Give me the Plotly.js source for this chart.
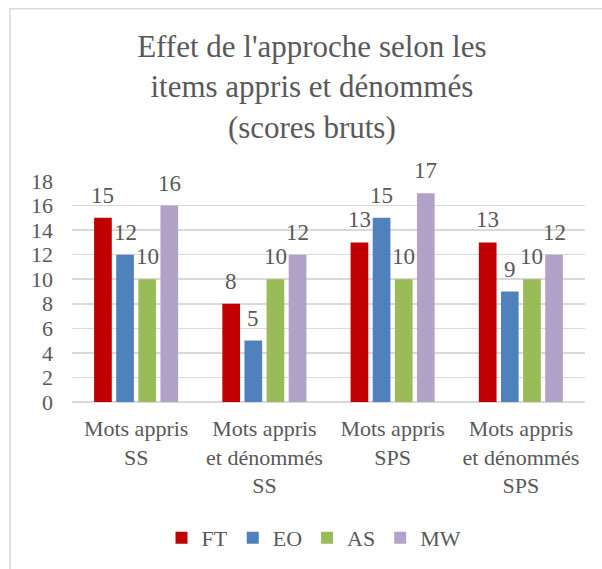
<!DOCTYPE html>
<html>
<head>
<meta charset="utf-8">
<script src="https://cdn.plot.ly/plotly-3.0.1.min.js"></script>
<style>html,body{margin:0;padding:0;background:#fff;}#chart{width:602px;height:569px;}</style>
</head>
<body>
<div id="chart"></div>
<script>
var categories = ["Mots appris<br>SS", "Mots appris<br>et dénommés<br>SS", "Mots appris<br>SPS", "Mots appris<br>et dénommés<br>SPS"];
var seriesNames = ["FT", "EO", "AS", "MW"];
var FT = [15, 8, 13, 13];
var EO = [12, 5, 15, 9];
var AS = [10, 10, 10, 10];
var MW = [16, 12, 17, 12];
var colors = ["#C00000", "#4F81BD", "#9BBB59", "#B3A2C7"];
var yTicks = [0, 2, 4, 6, 8, 10, 12, 14, 16, 18];

var seriesValues = [FT, EO, AS, MW];
var textColor = "#595959";
var font = "Liberation Serif";
var bargap = 0.31;

var traces = seriesValues.map(function (vals, i) {
  return {
    type: "bar",
    name: seriesNames[i],
    x: categories,
    y: vals,
    marker: { color: colors[i] },
    hoverinfo: "skip"
  };
});

// data labels placed at each bar's own category/value through the axes
var nS = seriesValues.length;
var slot = (1 - bargap) / nS;
var annotations = [];
seriesValues.forEach(function (vals, i) {
  var off = -(1 - bargap) / 2 + slot * (i + 0.5);
  vals.forEach(function (v, c) {
    annotations.push({
      x: c + off, y: v, xref: "x", yref: "y",
      text: String(v), showarrow: false,
      xanchor: "center", yanchor: "bottom", yshift: 8,
      font: { family: font, size: 23, color: textColor }
    });
  });
});

var L = 72, R = 17, T = 181, B = 166;
var W = 602, H = 569;
var pw = W - L - R, ph = H - T - B;

var layout = {
  width: W, height: H,
  margin: { l: L, r: R, t: T, b: B, pad: 0 },
  paper_bgcolor: "#ffffff",
  plot_bgcolor: "#ffffff",
  font: { family: font, color: textColor, size: 21 },
  title: {
    text: "Effet de l'approche selon les<br>items appris et dénommés<br>(scores bruts)",
    font: { family: font, size: 31, color: textColor },
    x: 0.518, xref: "container", xanchor: "center",
    y: 1 - 57 / H, yref: "container", yanchor: "top"
  },
  barmode: "group",
  bargap: bargap,
  bargroupgap: 0.2,
  xaxis: {
    type: "category",
    showgrid: false,
    showline: false,
    zeroline: false,
    ticks: "",
    ticklabelstandoff: 11,
    tickfont: { family: font, size: 22, color: textColor },
    fixedrange: true
  },
  yaxis: {
    range: [0, 18],
    tickvals: yTicks,
    ticktext: yTicks.map(String),
    showgrid: true,
    gridcolor: "#D9D9D9",
    gridwidth: 1.5,
    zeroline: true,
    zerolinecolor: "#D9D9D9",
    zerolinewidth: 1.5,
    showline: false,
    ticks: "",
    ticklabelstandoff: 18,
    tickfont: { family: font, size: 22, color: textColor },
    fixedrange: true
  },
  showlegend: true,
  legend: {
    orientation: "h",
    x: (314 - L) / pw, xanchor: "center",
    y: (T + ph - 538) / ph, yanchor: "middle",
    font: { family: font, size: 22, color: textColor },
    itemwidth: 30,
    traceorder: "normal"
  },
  annotations: annotations,
  shapes: [{
    type: "rect", xref: "paper", yref: "paper",
    x0: (10 - L) / pw, x1: (W + 20 - L) / pw,
    y0: (T + ph - (H + 20)) / ph, y1: (T + ph - 8) / ph,
    line: { color: "#D9D9D9", width: 1.5 },
    layer: "below"
  }]
};

Plotly.newPlot("chart", traces, layout, { displayModeBar: false, staticPlot: true });
</script>
</body>
</html>
